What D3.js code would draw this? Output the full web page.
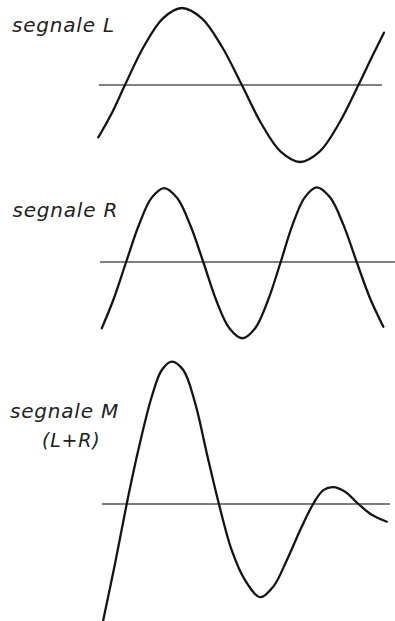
<!DOCTYPE html>
<html>
<head>
<meta charset="utf-8">
<script src="https://cdn.jsdelivr.net/npm/d3@7/dist/d3.min.js"></script>
<style>
  html, body { margin: 0; padding: 0; background: #fff; }
  svg { display: block; }
  .label { font-family: "DejaVu Sans", sans-serif; font-style: italic; fill: #222; letter-spacing: 0.8px; }
</style>
</head>
<body>
<svg id="chart" width="395" height="621"></svg>
<script>
// Time runs 0..100 across each panel, amplitude in units of the L/R peak.
const timeL = [0.1, 4.7, 9.3, 15.8, 22.4, 28.9, 35.8, 42.7, 49.6, 56.3, 63.0, 69.7, 76.4, 83.1, 89.8, 94.4, 98.6];
const signalL = [-0.68, -0.37, 0, 0.5, 0.866, 1.0, 0.866, 0.5, 0, -0.5, -0.866, -1.0, -0.866, -0.5, 0, 0.36, 0.68];

const timeR = [1.3, 5.3, 9.7, 14.1, 18.4, 22.8, 27.3, 31.8, 36.3, 40.8, 45.3, 49.8, 54.2, 58.6, 63.0, 67.1, 71.3, 75.4, 80.0, 84.6, 89.2, 93.8, 98.4];
const signalR = [-0.86, -0.49, 0, 0.48, 0.83, 0.96, 0.83, 0.48, 0, -0.5, -0.86, -0.99, -0.86, -0.5, 0, 0.485, 0.84, 0.97, 0.84, 0.485, 0, -0.47, -0.84];

const timeM = [1.8, 5.9, 9.9, 13.9, 18.5, 22.0, 25.4, 29.4, 33.5, 37.5, 41.7, 46.1, 50.7, 55.9, 60.5, 65.1, 69.7, 74.2, 77.7, 81.1, 85.2, 89.8, 94.4, 99.6];
const signalM = [-1.51, -0.77, 0, 0.70, 1.39, 1.74, 1.85, 1.74, 1.31, 0.66, 0, -0.60, -0.99, -1.21, -1.07, -0.73, -0.34, 0, 0.18, 0.22, 0.16, 0, -0.14, -0.23];

const panelNames = ["segnale L", "segnale R", "segnale M"];
const panelNotes = ["", "", "(L+R)"];
const axisStart = [0.3, 0.7, 1.3];
const axisEnd = [97.9, 102.4, 100.7];

const svg = d3.select("#chart");

const x = d3.scaleLinear().domain([0, 100]).range([98, 388]);

// baseline (pixel row of the zero line) for each panel
const baselines = [85, 262, 504];
const unit = 77;

const panels = [
  { t: timeL, v: signalL, labelX: 12, labelY: 32 },
  { t: timeR, v: signalR, labelX: 12.5, labelY: 216.5 },
  { t: timeM, v: signalM, labelX: 10, labelY: 418, noteX: 42, noteY: 447 }
];

panels.forEach((p, i) => {
  const base = baselines[i];
  const y = d3.scaleLinear().domain([-1, 1]).range([base + unit, base - unit]);
  const g = svg.append("g");

  g.append("line")
    .attr("x1", x(axisStart[i])).attr("x2", x(axisEnd[i]))
    .attr("y1", y(0)).attr("y2", y(0))
    .attr("stroke", "#555").attr("stroke-width", 1.3);

  const pts = p.t.map((t, k) => [t, p.v[k]]);
  const line = d3.line()
    .x(d => x(d[0]))
    .y(d => y(d[1]))
    .curve(d3.curveCatmullRom.alpha(0.5));

  g.append("path")
    .datum(pts)
    .attr("d", line)
    .attr("fill", "none")
    .attr("stroke", "#151515")
    .attr("stroke-width", 2.3)
    .attr("stroke-linecap", "round");

  g.append("text")
    .attr("class", "label")
    .attr("x", p.labelX).attr("y", p.labelY)
    .attr("font-size", 20)
    .text(panelNames[i]);

  if (panelNotes[i]) {
    g.append("text")
      .attr("class", "label")
      .attr("x", p.noteX).attr("y", p.noteY)
      .attr("font-size", 19)
      .text(panelNotes[i]);
  }
});
</script>
</body>
</html>
